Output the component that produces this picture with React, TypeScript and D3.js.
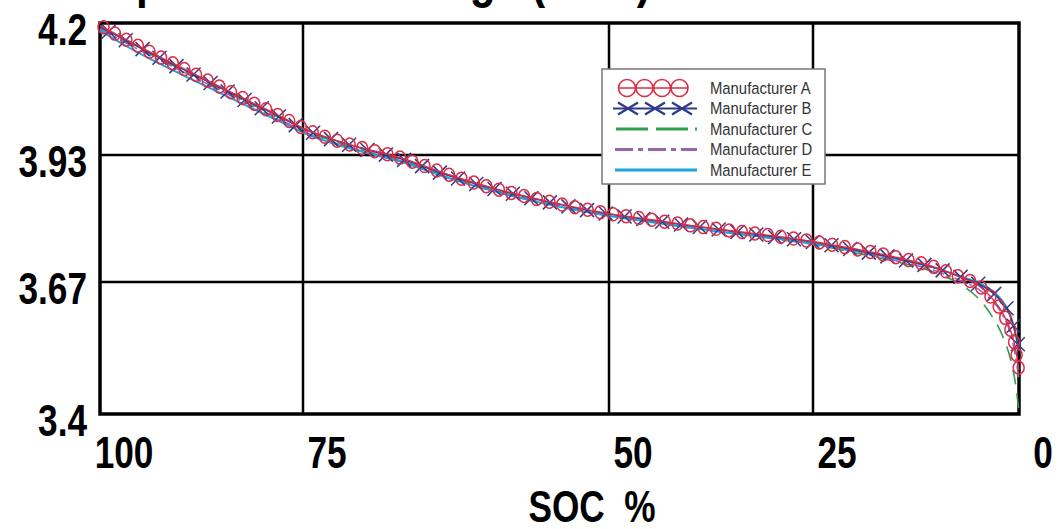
import React, { useEffect, useRef } from "react";
import * as d3 from "d3";

// State of charge (%) sample points, shared by all series
const SOC = [100, 97, 94, 90, 86, 82, 78, 75, 71, 67, 63, 59, 55, 50, 45, 40, 35, 30, 25, 20, 15, 10, 7, 5, 3.5, 2, 1, 0.5, 0];

// Open circuit voltage (V) per manufacturer
const VOLT_A = [4.195, 4.168, 4.142, 4.109, 4.076, 4.043, 4.011, 3.985, 3.95, 3.924, 3.889, 3.859, 3.835, 3.81, 3.798, 3.786, 3.775, 3.765, 3.753, 3.738, 3.721, 3.699, 3.679, 3.664, 3.641, 3.607, 3.57, 3.54, 3.49];
const VOLT_B = [4.192, 4.166, 4.14, 4.107, 4.074, 4.041, 4.009, 3.984, 3.949, 3.922, 3.887, 3.858, 3.834, 3.809, 3.797, 3.785, 3.774, 3.763, 3.752, 3.736, 3.719, 3.698, 3.68, 3.667, 3.652, 3.628, 3.598, 3.57, 3.53];
const VOLT_C = [4.19, 4.163, 4.138, 4.105, 4.072, 4.039, 4.007, 3.982, 3.946, 3.919, 3.884, 3.855, 3.831, 3.806, 3.794, 3.781, 3.77, 3.759, 3.747, 3.73, 3.712, 3.688, 3.664, 3.638, 3.606, 3.56, 3.51, 3.47, 3.405];
const VOLT_D = [4.188, 4.161, 4.135, 4.102, 4.069, 4.036, 4.004, 3.979, 3.944, 3.918, 3.883, 3.854, 3.83, 3.806, 3.794, 3.782, 3.771, 3.76, 3.748, 3.732, 3.714, 3.692, 3.672, 3.656, 3.636, 3.603, 3.562, 3.525, 3.47];
const VOLT_E = [4.185, 4.155, 4.128, 4.095, 4.063, 4.031, 4.0, 3.976, 3.942, 3.916, 3.882, 3.853, 3.829, 3.805, 3.793, 3.781, 3.77, 3.76, 3.749, 3.734, 3.718, 3.698, 3.681, 3.669, 3.655, 3.631, 3.6, 3.57, 3.53];

const SERIES_NAMES = ["Manufacturer A", "Manufacturer B", "Manufacturer C", "Manufacturer D", "Manufacturer E"];
const X_TICKS = [100, 75, 50, 25, 0];
const Y_TICKS = [3.4, 3.67, 3.93, 4.2];
const TITLE = "Open Circuit Voltage (OCV)";
const X_TITLE = "SOC  %";

const FONT = "'Liberation Sans', Arial, sans-serif";
const NARROW = 0.8;

export default function App() {
  const ref = useRef<SVGSVGElement>(null);

  useEffect(() => {
    const svg = d3.select(ref.current);
    svg.selectAll("*").remove();

    const left = 100, right = 1019, top = 23, bottom = 414;
    const x = d3.scaleLinear().domain(X_TICKS).range([left, 303, 609, 813, right]);
    const y = d3.scaleLinear().domain([3.4, 4.2]).range([bottom, top]);

    svg.append("rect").attr("width", 1063).attr("height", 529).attr("fill", "#fff");

    const boldText = (g: any, tx: number, ty: number, size: number, anchor: string, txt: string) =>
      g.append("text")
        .attr("transform", `translate(${tx},${ty}) scale(${NARROW},1)`)
        .attr("text-anchor", anchor)
        .attr("font-family", FONT).attr("font-weight", "bold").attr("font-size", size)
        .attr("fill", "#000")
        .style("white-space", "pre")
        .text(txt);

    // Title (mostly cut off at the top, as in the source)
    boldText(svg, 103, -3, 53, "start", TITLE);

    // Grid
    const grid = svg.append("g");
    grid.selectAll("line.v").data(X_TICKS.slice(1, -1)).join("line")
      .attr("x1", d => x(d)).attr("x2", d => x(d)).attr("y1", top).attr("y2", bottom)
      .attr("stroke", "#000").attr("stroke-width", 2.5);
    grid.selectAll("line.h").data(Y_TICKS.slice(1, -1)).join("line")
      .attr("x1", left).attr("x2", right).attr("y1", d => y(d)).attr("y2", d => y(d))
      .attr("stroke", "#000").attr("stroke-width", 2.5);

    // Frame
    svg.append("rect").attr("x", left).attr("y", top).attr("width", right - left).attr("height", bottom - top)
      .attr("fill", "none").attr("stroke", "#000").attr("stroke-width", 3.5);

    // Y tick labels
    const yl = svg.append("g");
    Y_TICKS.forEach(v => boldText(yl, 87, y(v) + 22, 44, "end", String(v)));

    // X tick labels
    const xl = svg.append("g");
    X_TICKS.forEach(v => boldText(xl, x(v) + 24, 468, 44, "middle", String(v)));

    boldText(svg, 592, 522, 44, "middle", X_TITLE);

    const line = d3.line<number>()
      .x((_, i) => x(SOC[i]))
      .y(d => y(d))
      .curve(d3.curveMonotoneX);

    const series = [
      { name: SERIES_NAMES[2], values: VOLT_C, color: "#2e9e4f", width: 1.6, dash: "15 9", marker: "none" },
      { name: SERIES_NAMES[3], values: VOLT_D, color: "#9b62b3", width: 1.6, dash: "12 4 3 4", marker: "none" },
      { name: SERIES_NAMES[4], values: VOLT_E, color: "#1fa3dd", width: 2, dash: null, marker: "none" },
      { name: SERIES_NAMES[1], values: VOLT_B, color: "#2d3a8c", width: 1.4, dash: null, marker: "x" },
      { name: SERIES_NAMES[0], values: VOLT_A, color: "#dc2d44", width: 1.4, dash: null, marker: "o" },
    ];

    const plot = svg.append("g");
    series.forEach(s => {
      const path = plot.append("path")
        .attr("d", line(s.values) as string)
        .attr("fill", "none")
        .attr("stroke", s.color)
        .attr("stroke-width", s.width)
        .attr("stroke-dasharray", s.dash);
      const node = path.node() as SVGPathElement;
      if (s.marker !== "none" && node) {
        const len = node.getTotalLength();
        const step = s.marker === "o" ? 13 : 19;
        const pts: { x: number; y: number }[] = [];
        for (let l = s.marker === "o" ? 4 : 10; l <= len; l += step) {
          const p = node.getPointAtLength(l);
          pts.push({ x: p.x, y: p.y });
        }
        if (s.marker === "o") {
          plot.append("g").selectAll("ellipse").data(pts).join("ellipse")
            .attr("cx", d => d.x).attr("cy", d => d.y).attr("rx", 5.5).attr("ry", 6.5)
            .attr("fill", "none").attr("stroke", s.color).attr("stroke-width", 1.5);
        } else {
          const sz = 7;
          plot.append("g").selectAll("path").data(pts).join("path")
            .attr("d", d => `M${d.x - sz},${d.y - sz}L${d.x + sz},${d.y + sz}M${d.x - sz},${d.y + sz}L${d.x + sz},${d.y - sz}`)
            .attr("fill", "none").attr("stroke", s.color).attr("stroke-width", 1.5);
        }
      }
    });

    // Legend
    const lg = svg.append("g");
    lg.append("rect").attr("x", 602).attr("y", 69).attr("width", 223).attr("height", 115)
      .attr("fill", "#fff").attr("stroke", "#777").attr("stroke-width", 1.5);
    const rowY = (i: number) => 88 + i * 20.5;
    const legendSeries = [series[4], series[3], series[0], series[1], series[2]];
    legendSeries.forEach((s, i) => {
      const cy = rowY(i);
      const g = lg.append("g");
      if (s.marker === "o") {
        g.append("line").attr("x1", 618).attr("x2", 688).attr("y1", cy).attr("y2", cy)
          .attr("stroke", s.color).attr("stroke-width", 1.5);
        g.selectAll("circle").data([627, 644.5, 662, 679.5]).join("circle")
          .attr("cx", d => d).attr("cy", cy).attr("r", 8.5)
          .attr("fill", "none").attr("stroke", s.color).attr("stroke-width", 1.6);
      } else if (s.marker === "x") {
        g.append("line").attr("x1", 613).attr("x2", 697).attr("y1", cy).attr("y2", cy)
          .attr("stroke", s.color).attr("stroke-width", 2);
        g.selectAll("path").data([628, 655, 682]).join("path")
          .attr("d", d => `M${d - 10},${cy - 6}L${d + 10},${cy + 6}M${d - 10},${cy + 6}L${d + 10},${cy - 6}`)
          .attr("fill", "none").attr("stroke", s.color).attr("stroke-width", 2.2);
      } else {
        const dash = s.name === SERIES_NAMES[2] ? "32 8 32 7 3 20" : s.name === SERIES_NAMES[3] ? "18 5 5 5" : null;
        g.append("line").attr("x1", s.name === SERIES_NAMES[2] ? 616 : 615).attr("x2", 697).attr("y1", cy).attr("y2", cy)
          .attr("stroke", s.color).attr("stroke-width", 3).attr("stroke-dasharray", dash);
      }
      g.append("text")
        .attr("transform", `translate(710,${cy}) scale(0.9,1)`)
        .attr("dy", "0.36em")
        .attr("font-family", FONT)
        .attr("font-size", 16.5).attr("fill", "#333").text(s.name);
    });
  }, []);

  return (
    <svg ref={ref} width={1063} height={529}
      style={{ position: "absolute", left: 0, top: 0, display: "block" }} />
  );
}
